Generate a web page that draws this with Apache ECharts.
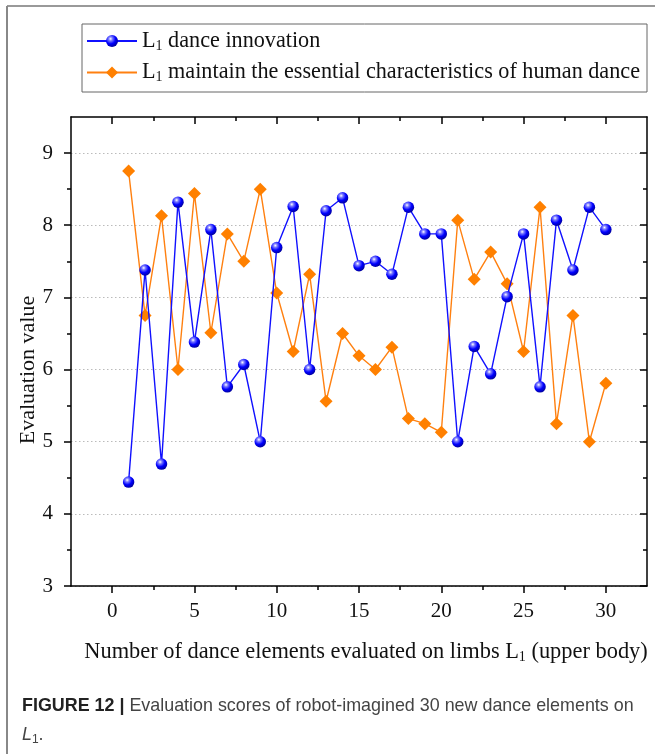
<!DOCTYPE html>
<html>
<head>
<meta charset="utf-8">
<script src="https://cdn.jsdelivr.net/npm/echarts@6/dist/echarts.min.js"></script>
<style>
html,body{margin:0;padding:0;background:#fff;}
#chart{width:655px;height:754px;}
</style>
</head>
<body>
<div id="chart"></div>
<script>
const elements = [1,2,3,4,5,6,7,8,9,10,11,12,13,14,15,16,17,18,19,20,21,22,23,24,25,26,27,28,29,30];
const innovation = [4.44,7.38,4.69,8.32,6.38,7.94,5.76,6.07,5.00,7.69,8.26,6.00,8.20,8.38,7.44,7.50,7.32,8.25,7.88,7.88,5.00,6.32,5.94,7.01,7.88,5.76,8.07,7.38,8.25,7.94];
const maintain = [8.75,6.75,8.13,6.00,8.44,6.51,7.88,7.50,8.50,7.06,6.25,7.32,5.56,6.50,6.19,6.00,6.31,5.32,5.25,5.13,8.07,7.25,7.63,7.19,6.25,8.25,5.25,6.75,5.00,5.81];
const xTicks = [0,5,10,15,20,25,30];
const xMinorTicks = [2.5,7.5,12.5,17.5,22.5,27.5];
const yTicks = [3,4,5,6,7,8,9];
const yMinorTicks = [3.5,4.5,5.5,6.5,7.5,8.5];
const seriesNames = ['L1 dance innovation','L1 maintain the essential characteristics of human dance'];

const SERIF = '"Liberation Serif","Times New Roman",serif';
const SANS = '"Liberation Sans",Arial,sans-serif';
const X_MIN = -2.5, X_MAX = 32.5, Y_MIN = 3, Y_MAX = 9.5;

function xAx(pos, ticks, len, inside, line, labels) {
  return {
    type: 'value', position: pos, min: X_MIN, max: X_MAX,
    axisLine: {show: line, onZero: false, lineStyle: {color: '#000', width: 1.5}},
    axisTick: {show: true, customValues: ticks, length: len, inside: inside, lineStyle: {color: '#000', width: 1.5}},
    axisLabel: labels ? {show: true, customValues: xTicks, margin: 15, fontFamily: SERIF, fontSize: 21, color: '#111'} : {show: false},
    splitLine: {show: false}
  };
}
function yAx(pos, ticks, len, inside, line, labels, split) {
  return {
    type: 'value', position: pos, min: Y_MIN, max: Y_MAX,
    axisLine: {show: line, onZero: false, lineStyle: {color: '#000', width: 1.5}},
    axisTick: {show: true, customValues: ticks, length: len, inside: inside, lineStyle: {color: '#000', width: 1.5}},
    axisLabel: labels ? {show: true, customValues: yTicks, margin: 18, fontFamily: SERIF, fontSize: 21, color: '#111'} : {show: false},
    splitLine: split ? {show: true, lineStyle: {color: '#bbb', type: [1.5, 2.5], width: 1}} : {show: false}
  };
}

const blueSphere = {
  type: 'radial', x: 0.38, y: 0.32, r: 0.75,
  colorStops: [
    {offset: 0, color: '#ffffff'},
    {offset: 0.22, color: '#7a7aff'},
    {offset: 0.55, color: '#0000ff'},
    {offset: 1, color: '#00008a'}
  ]
};

const legendRich = {
  m: {fontFamily: SERIF, fontSize: 22.2, color: '#111', lineHeight: 24},
  s: {fontFamily: SERIF, fontSize: 14, color: '#111', lineHeight: 24, padding: [10, 0, 0, 0]}
};

const chart = echarts.init(document.getElementById('chart'), null, {renderer: 'canvas'});
chart.setOption({
  animation: false,
  backgroundColor: '#fff',
  grid: {left: 71, top: 117, right: 8, bottom: 168, containLabel: false},
  legend: {
    orient: 'vertical', left: 86, top: 29, padding: 0,
    itemWidth: 50, itemHeight: 15, itemGap: 7.5,
    selectedMode: false,
    data: seriesNames,
    formatter: function (name) {
      return '{m|L}{s|1}{m|' + name.slice(2) + '}';
    },
    textStyle: {fontFamily: SERIF, fontSize: 22.2, color: '#111', lineHeight: 24, rich: legendRich}
  },
  xAxis: [
    xAx('bottom', xTicks, 7, false, true, true),
    xAx('bottom', xMinorTicks, 4, false, false, false),
    xAx('top', xTicks, 7, true, true, false),
    xAx('top', xMinorTicks, 4, true, false, false)
  ],
  yAxis: [
    yAx('left', yTicks, 7, false, true, true, true),
    yAx('left', yMinorTicks, 4, false, false, false, false),
    yAx('right', yTicks, 7, true, true, false, false),
    yAx('right', yMinorTicks, 4, true, false, false, false)
  ],
  series: [
    {
      name: seriesNames[1], type: 'line', xAxisIndex: 0, yAxisIndex: 0,
      data: elements.map((x, i) => [x, maintain[i]]),
      symbol: 'diamond', symbolSize: 13,
      lineStyle: {color: '#ff8010', width: 1.4},
      itemStyle: {color: '#ff8000'},
      z: 2
    },
    {
      name: seriesNames[0], type: 'line', xAxisIndex: 0, yAxisIndex: 0,
      data: elements.map((x, i) => [x, innovation[i]]),
      symbol: 'circle', symbolSize: 11.5,
      lineStyle: {color: '#1010ff', width: 1.4},
      itemStyle: {color: blueSphere},
      z: 3
    }
  ],
  graphic: [
    {type: 'line', shape: {x1: 7, y1: 6, x2: 655, y2: 6}, style: {stroke: '#777', lineWidth: 1.5}, silent: true},
    {type: 'line', shape: {x1: 7, y1: 6, x2: 7, y2: 754}, style: {stroke: '#888', lineWidth: 2}, silent: true},
    {type: 'rect', shape: {x: 82, y: 24, width: 565, height: 68}, style: {fill: 'none', stroke: '#666', lineWidth: 1}, silent: true},
    {
      type: 'text', x: 28, y: 370, rotation: Math.PI / 2, silent: true,
      style: {text: 'Evaluation value', font: '22px ' + SERIF, fill: '#111', align: 'center', verticalAlign: 'middle'}
    },
    {
      type: 'text', x: 366, y: 652, silent: true,
      style: {
        text: '{m|Number of dance elements evaluated on limbs L}{s|1}{m| (upper body)}',
        align: 'center', verticalAlign: 'middle',
        rich: {
          m: {fontFamily: SERIF, fontSize: 22.4, fill: '#111', lineHeight: 26},
          s: {fontFamily: SERIF, fontSize: 14, fill: '#111', lineHeight: 26, padding: [10, 0, 0, 0]}
        }
      }
    },
    {
      type: 'text', x: 22, y: 692, silent: true,
      style: {
        text: '{b|FIGURE 12 |}{r| Evaluation scores of robot-imagined 30 new dance elements on}\n{i|L}{is|1}{r|.}',
        align: 'left', verticalAlign: 'top',
        rich: {
          b: {fontFamily: SANS, fontSize: 17.9, fontWeight: 'bold', fill: '#222', lineHeight: 29},
          r: {fontFamily: SANS, fontSize: 17.9, fill: '#444', lineHeight: 29},
          i: {fontFamily: SANS, fontSize: 17.9, fontStyle: 'italic', fill: '#444', lineHeight: 29},
          is: {fontFamily: SANS, fontSize: 12, fill: '#444', lineHeight: 29, padding: [9, 0, 0, 0]}
        }
      }
    }
  ]
});
</script>
</body>
</html>
